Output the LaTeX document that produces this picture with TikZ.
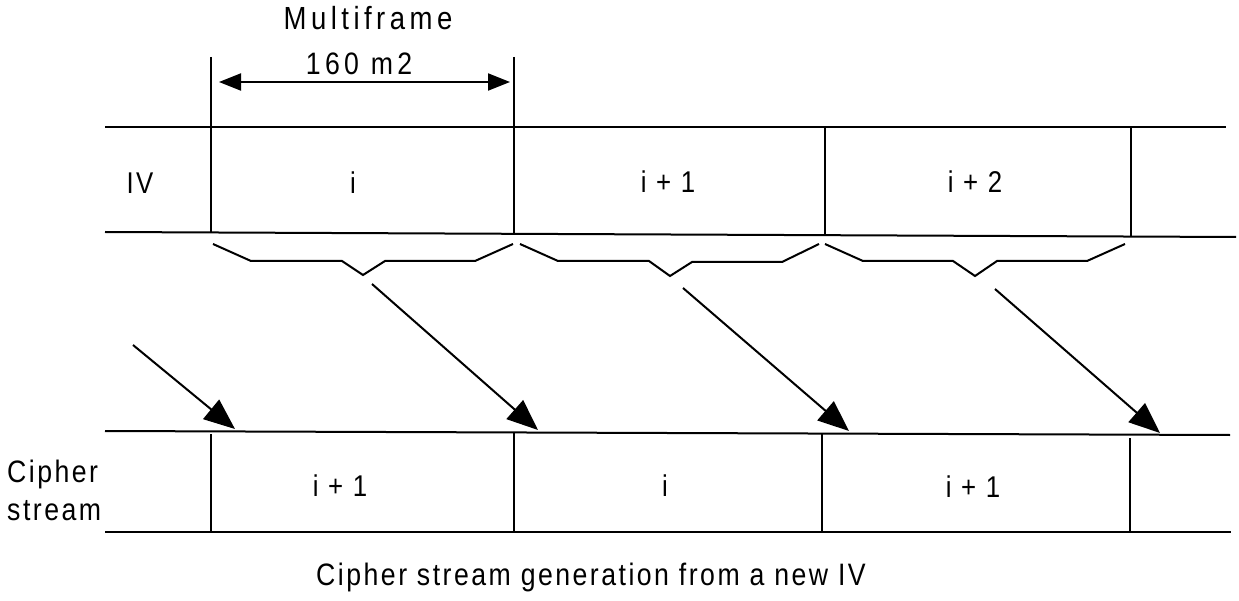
\documentclass[tikz,border=0pt]{standalone}
\usepackage{fontspec}
\setmainfont{Liberation Sans}
\newfontfamily\labfont[FakeStretch=0.86,LetterSpace=8]{Liberation Sans}
\newfontfamily\widefont[FakeStretch=0.86,LetterSpace=14]{Liberation Sans}
\usetikzlibrary{arrows.meta}
\begin{document}
\begin{tikzpicture}[x=1pt,y=-1pt,
  ln/.style={line width=2pt,line cap=butt},
  bigarrow/.style={line width=2pt,-{Triangle[length=31pt,width=25pt]}},
  dimarrow/.style={line width=2pt,{Triangle[length=22pt,width=17pt]}-{Triangle[length=22pt,width=17pt]}},
  lab/.style={inner sep=0pt,anchor=base,font=\labfont\fontsize{30}{36}\selectfont},
  widelab/.style={inner sep=0pt,anchor=base,font=\widefont\fontsize{32}{38}\selectfont},
  captext/.style={inner sep=0pt,anchor=base,font=\labfont\fontsize{31}{37}\selectfont}]
\useasboundingbox (0,0) rectangle (1239,601);
% top row
\coordinate (t1l) at (105,127); \coordinate (t1r) at (1226,127);
\coordinate (t2l) at (105,232); \coordinate (t2r) at (1236,237);
\draw[ln] (t1l) -- (t1r);
\draw[ln] (t2l) -- (t2r);
\coordinate (va1) at (211,57);  \coordinate (va2) at (211,233);
\coordinate (vb1) at (514,57);  \coordinate (vb2) at (514,234);
\coordinate (vc1) at (825,127); \coordinate (vc2) at (825,235);
\coordinate (vd1) at (1131,127);\coordinate (vd2) at (1131,236);
\draw[ln] (va1) -- (va2);
\draw[ln] (vb1) -- (vb2);
\draw[ln] (vc1) -- (vc2);
\draw[ln] (vd1) -- (vd2);
% dimension arrow
\coordinate (dl) at (219,82); \coordinate (dr) at (510,82);
\draw[dimarrow] (dl) -- (dr);
\node[widelab] (mf) at (368,30) {Multiframe};
\node[widelab,font=\widefont\fontsize{31}{37}\selectfont] (m2) at (359,75) {160 m2};
% top labels
\node[lab] (iv) at (140,194) {IV};
\node[lab] (ta) at (353,194) {i};
\node[lab] (tb) at (668,193) {i + 1};
\node[lab] (tc) at (975,193) {i + 2};
% braces
\coordinate (b1s) at (213,244); \coordinate (b1t) at (363,275); \coordinate (b1e) at (513,244);
\coordinate (b2s) at (520,244); \coordinate (b2t) at (670,276); \coordinate (b2e) at (819,244);
\coordinate (b3s) at (825,244); \coordinate (b3t) at (975,276); \coordinate (b3e) at (1125,244);
\draw[ln,line join=miter] (b1s) -- ++(38,17) -- ++(91,0) -- (b1t) -- ++(22,-14) -- ++(90,0) -- (b1e);
\draw[ln,line join=miter] (b2s) -- ++(38,17) -- ++(91,0) -- (b2t) -- ++(22,-14) -- ++(90,0) -- (b2e);
\draw[ln,line join=miter] (b3s) -- ++(38,17) -- ++(90,0) -- (b3t) -- ++(22,-15) -- ++(90,0) -- (b3e);
% diagonal arrows
\coordinate (a0s) at (133,345); \coordinate (a0e) at (235,429);
\coordinate (a1s) at (372,284); \coordinate (a1e) at (538,430);
\coordinate (a2s) at (683,288); \coordinate (a2e) at (849,431);
\coordinate (a3s) at (995,289); \coordinate (a3e) at (1160,433);
\draw[bigarrow] (a0s) -- (a0e);
\draw[bigarrow] (a1s) -- (a1e);
\draw[bigarrow] (a2s) -- (a2e);
\draw[bigarrow] (a3s) -- (a3e);
% bottom row
\coordinate (u1l) at (105,431); \coordinate (u1r) at (1230,435);
\coordinate (u2l) at (105,532); \coordinate (u2r) at (1231,532);
\draw[ln] (u1l) -- (u1r);
\draw[ln] (u2l) -- (u2r);
\coordinate (wa1) at (211,434);  \coordinate (wa2) at (211,532);
\coordinate (wb1) at (514,433);  \coordinate (wb2) at (514,532);
\coordinate (wc1) at (822,434);  \coordinate (wc2) at (822,532);
\coordinate (wd1) at (1130,438); \coordinate (wd2) at (1130,532);
\draw[ln] (wa1) -- (wa2);
\draw[ln] (wb1) -- (wb2);
\draw[ln] (wc1) -- (wc2);
\draw[ln] (wd1) -- (wd2);
\node[lab] (ba) at (340,496) {i + 1};
\node[lab] (bb) at (665,496) {i};
\node[lab] (bc) at (973,497) {i + 1};
\node[lab,anchor=base west,font=\labfont\fontsize{31}{37}\selectfont] (cs1) at (7,482) {Cipher};
\node[lab,anchor=base west,font=\labfont\fontsize{31}{37}\selectfont] (cs2) at (7,520) {stream};
\node[captext] (caption) at (591,585) {Cipher stream generation from a new IV};
\end{tikzpicture}
\end{document}
